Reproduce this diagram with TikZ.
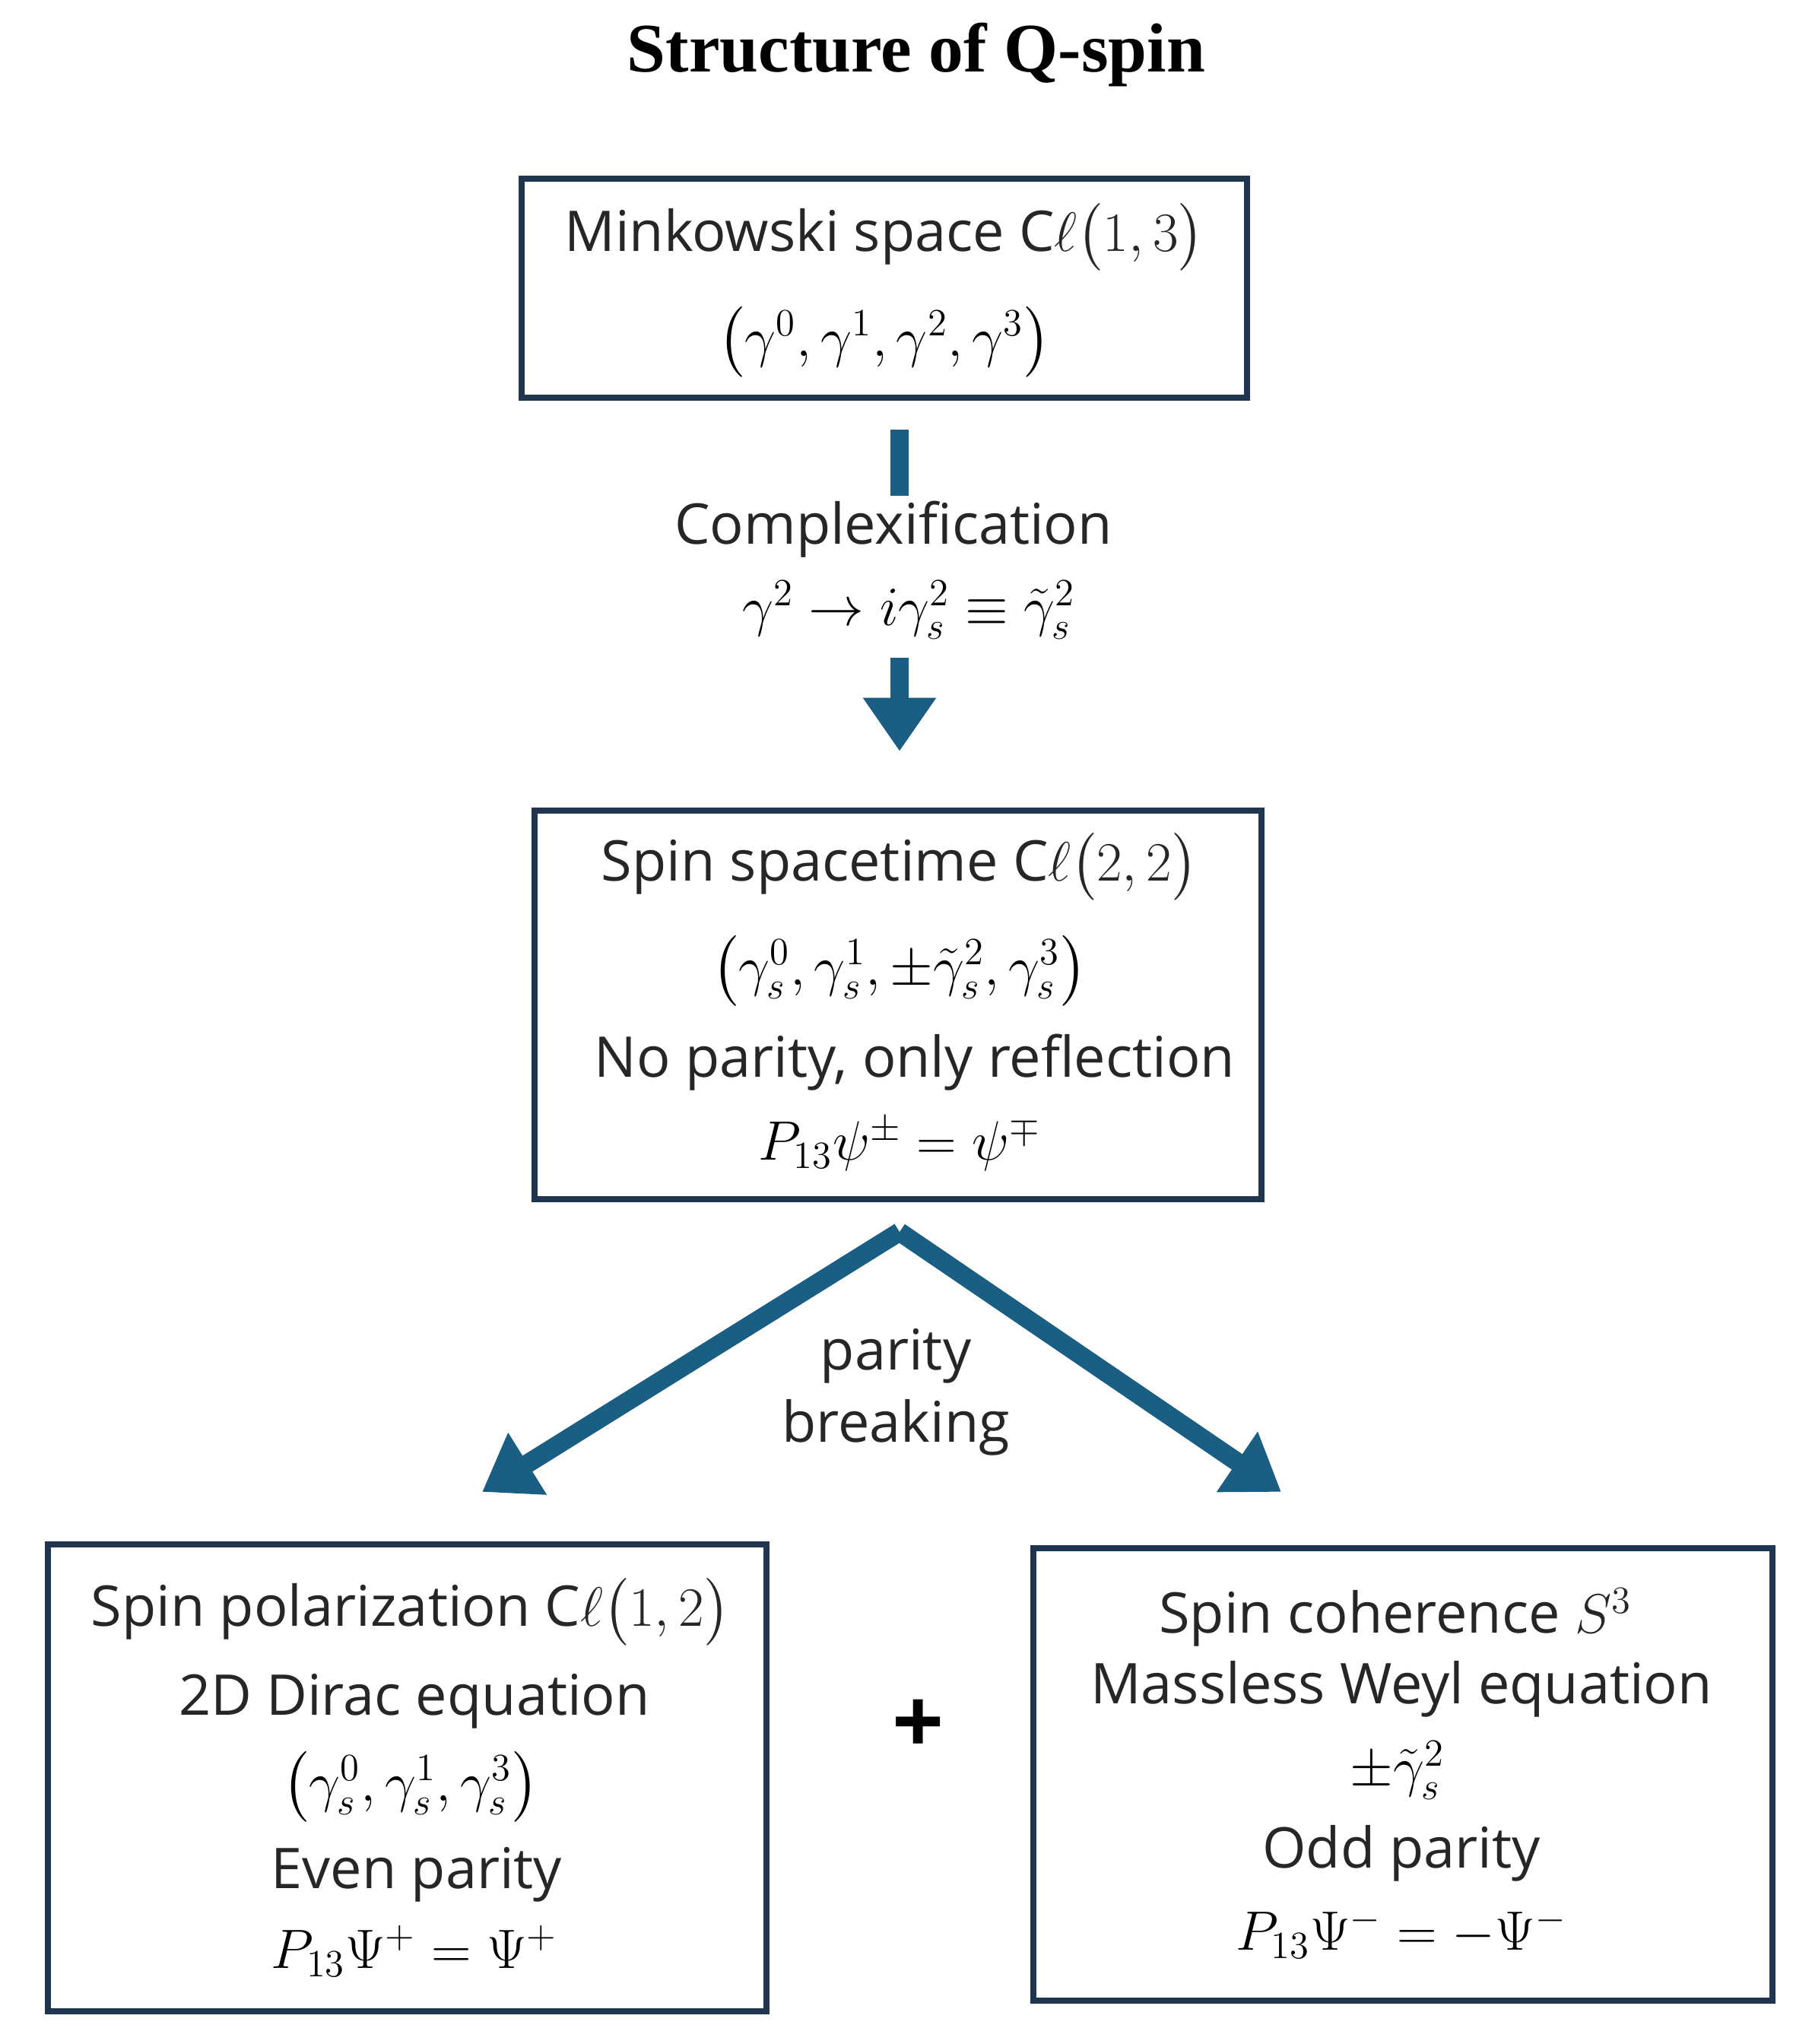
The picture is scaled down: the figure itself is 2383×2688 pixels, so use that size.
\documentclass[tikz,border=0pt]{standalone}
\usepackage{amsmath,amssymb}
\usepackage{fontspec}
\setmainfont{Open Sans}
\newfontfamily\titlefont{Liberation Serif}
\usetikzlibrary{arrows.meta}
\definecolor{boxc}{HTML}{1F3550}
\definecolor{arrc}{HTML}{1B5E84}
\begin{document}
\begin{tikzpicture}[x=0.01cm,y=-0.01cm,
  box/.style={draw=boxc,line width=2.2pt,fill=white},
  txt/.style={font=\fontsize{21}{25}\selectfont,text=black!85,inner sep=1pt},
  mth/.style={font=\fontsize{22}{26}\selectfont,inner sep=1pt},
  arr/.style={draw=arrc,line width=7pt,-{Triangle[width=26pt,length=20pt]}},
  ln/.style={draw=arrc,line width=7pt}]
\useasboundingbox (0,0) rectangle (2383,2688);
\node[font=\titlefont\bfseries\fontsize{26}{30}\selectfont] (title) at (1205,72) {Structure of Q-spin};
% box 1
\draw[box] (686,235) rectangle (1640,523);
\node[txt] (b1a) at (1163,312) {Minkowski space $\mathrm{C}\ell\bigl(1,3\bigr)$};
\node[mth] (b1b) at (1163,450) {$\bigl(\gamma^0,\gamma^1,\gamma^2,\gamma^3\bigr)$};
% arrow 1
\coordinate (a1s) at (1183,565); \coordinate (a1e) at (1183,652);
\coordinate (a2s) at (1183,865); \coordinate (a2e) at (1183,988);
\draw[ln] (a1s) -- (a1e);
\draw[arr] (a2s) -- (a2e);
\node[txt] (cx) at (1175,696) {Complexification};
\node[mth] (cf) at (1195,802) {$\gamma^2\rightarrow i\gamma_s^2\equiv\tilde{\gamma}_s^2$};
% box 2
\draw[box] (703,1066) rectangle (1659,1577);
\node[txt] (b2a) at (1183,1140) {Spin spacetime $\mathrm{C}\ell\bigl(2,2\bigr)$};
\node[mth] (b2b) at (1183,1277) {$\bigl(\gamma_s^0,\gamma_s^1,\pm\tilde{\gamma}_s^2,\gamma_s^3\bigr)$};
\node[txt] (b2c) at (1203,1397) {No parity, only reflection};
\node[mth] (b2d) at (1183,1505) {$P_{13}\psi^{\pm}=\psi^{\mp}$};
% V arrows
\coordinate (apex) at (1183,1620);
\coordinate (lt) at (634,1962); \coordinate (rt) at (1685,1962);
\draw[arr] (apex) -- (lt);
\draw[arr] (apex) -- (rt);
\node[txt] (p1) at (1178,1783) {parity};
\node[txt] (p2) at (1178,1877) {breaking};
% box 3
\draw[box] (63,2031) rectangle (1008,2645);
\node[txt] (b3a) at (540,2120) {Spin polarization $\mathrm{C}\ell\bigl(1,2\bigr)$};
\node[txt] (b3b) at (545,2237) {2D Dirac equation};
\node[mth] (b3c) at (540,2350) {$\bigl(\gamma_s^0,\gamma_s^1,\gamma_s^3\bigr)$};
\node[txt] (b3d) at (548,2465) {Even parity};
\node[mth] (b3e) at (545,2566) {$P_{13}\Psi^{+}=\Psi^{+}$};
% plus
\node[font=\bfseries\fontsize{34}{38}\selectfont] (plus) at (1208,2271) {+};
% box 4
\draw[box] (1359,2036) rectangle (2331,2631);
\node[txt] (b4a) at (1835,2127) {Spin coherence $S^3$};
\node[txt] (b4b) at (1843,2221) {Massless Weyl equation};
\node[mth] (b4c) at (1838,2328) {$\pm\tilde{\gamma}_s^2$};
\node[txt] (b4d) at (1843,2437) {Odd parity};
\node[mth] (b4e) at (1843,2542) {$P_{13}\Psi^{-}=-\Psi^{-}$};
\end{tikzpicture}
\end{document}
